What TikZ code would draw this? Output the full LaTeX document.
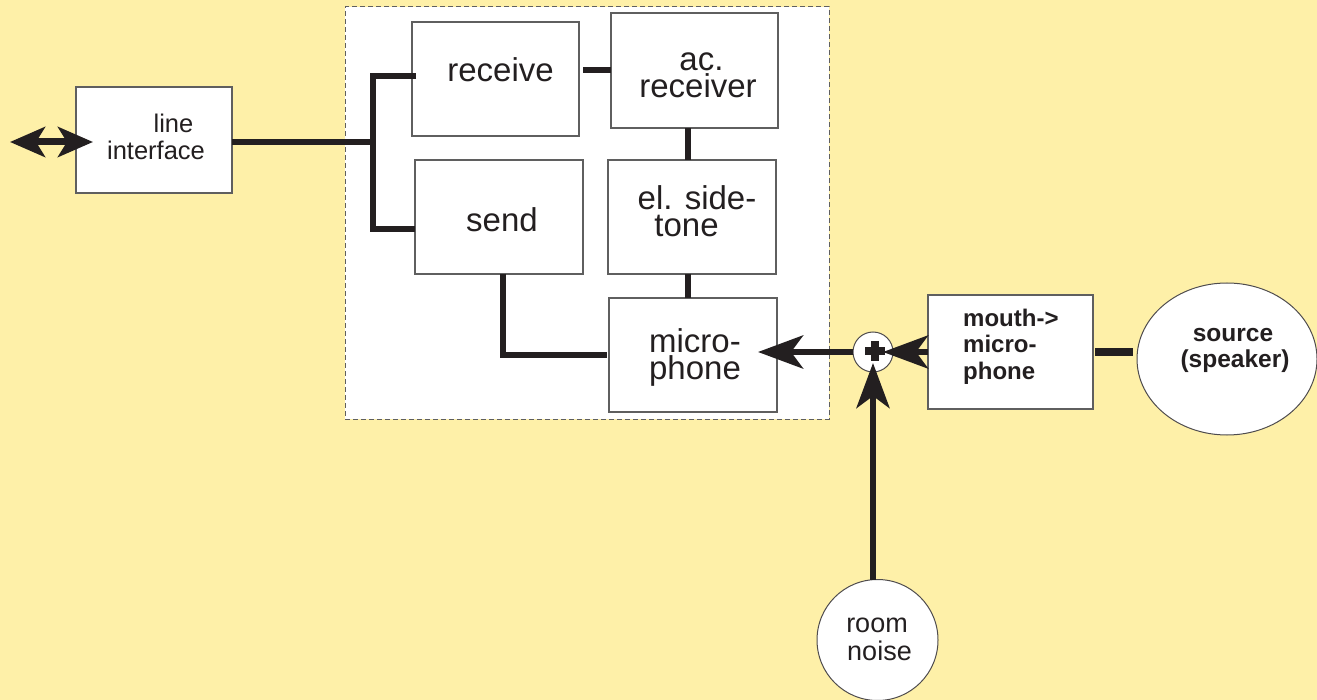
\documentclass[tikz,border=0pt]{standalone}
\usepackage{fontspec}
\setmainfont{Liberation Sans}
\usetikzlibrary{arrows.meta,shapes.geometric,calc}
\definecolor{bgc}{RGB}{254,240,168}
\definecolor{ink}{RGB}{35,31,32}
\definecolor{edge}{RGB}{95,95,95}

\begin{document}
\begin{tikzpicture}[x=1pt,y=-1pt,
  blk/.style={draw=edge, fill=white, line width=1.3pt, inner sep=0pt, outer sep=0pt},
  wire/.style={draw=ink, line width=6pt, line join=miter},
  arr/.style={draw=ink, line width=6.5pt, -{Stealth[length=45pt,width=33pt,inset=12pt]}},
  dbl/.style={draw=ink, line width=7pt, {Stealth[length=35pt,width=30pt,inset=9pt]}-{Stealth[length=35pt,width=30pt,inset=9pt]}},
  big/.style={font=\fontsize{33}{36}\selectfont, text=ink, anchor=base, inner sep=0pt},
  mid/.style={font=\fontsize{25.5}{28}\selectfont, text=ink, anchor=base, inner sep=0pt},
  noi/.style={font=\fontsize{27}{30}\selectfont, text=ink, anchor=base, inner sep=0pt},
  bld/.style={font=\fontsize{24}{27}\selectfont\bfseries, text=ink, anchor=base west, inner sep=0pt},
  bldc/.style={font=\fontsize{24.5}{27}\selectfont\bfseries, text=ink, anchor=base, inner sep=0pt}
]
% canvas
\useasboundingbox (0,0) rectangle (1317,700);
\fill[bgc] (0,0) rectangle (1317,700);

% telephone set (dashed outline)
\node[blk, draw=edge, line width=1pt, dash pattern=on 5pt off 3pt,
      minimum width=484pt, minimum height=412pt] (tel) at (587,213) {};

% blocks
\node[blk, minimum width=156pt, minimum height=106pt] (li)  at (154,140)   {};
\node[blk, minimum width=167pt, minimum height=114pt] (rcv) at (495.5,79)  {};
\node[blk, minimum width=167pt, minimum height=115pt] (acr) at (694.5,70.5){};
\node[blk, minimum width=168pt, minimum height=114pt] (snd) at (499,217)   {};
\node[blk, minimum width=168pt, minimum height=114pt] (est) at (692,217)   {};
\node[blk, minimum width=168pt, minimum height=114pt] (mic) at (693,355)   {};
\node[blk, minimum width=165pt, minimum height=114pt] (mth) at (1010.5,352){};
\node[blk, draw=ink!80, line width=1pt, ellipse, minimum width=180pt, minimum height=152pt] (src) at (1227,359) {};
\node[blk, draw=ink!80, line width=1pt, circle, minimum size=121pt] (rn) at (877.5,640) {};
\node[blk, draw=ink!80, line width=1pt, circle, minimum size=40pt] (sum) at (873,352) {};

% line side
\coordinate (ext) at (10,142);
\coordinate (bus) at (373,142);
\coordinate (bt) at (373,76);
\coordinate (bb) at (373,229);
\draw[dbl] (ext) -- ([xshift=17pt]li.west |- ext);
\draw[wire] (li.east |- bus) -- (bus);
\draw[wire] ([xshift=4pt]rcv.west |- bt) -- (bt) -- (bb) -- (snd.west |- bb);

% internal connections
\draw[wire] ([xshift=4pt]rcv.east |- acr.west) -- (acr.west);
\draw[wire] ([xshift=-6.5pt]acr.south) -- ([xshift=-6.5pt]acr.south |- est.north);
\draw[wire] ([xshift=-4pt]est.south) -- ([xshift=-4pt]est.south |- mic.north);
\draw[wire] ([xshift=4pt]snd.south) |- ([xshift=-2pt]mic.west);

% acoustic path
\draw[arr] (sum.west) -- ([xshift=-19pt]mic.east |- sum.west);
\draw[arr] (mth.west) -- ([xshift=10pt]sum.center);
\draw[arr] (rn.north -| sum) -- ([yshift=-11pt]sum.center);
\draw[draw=ink, line width=8pt, shorten <=2pt, shorten >=4pt] (mth.east) -- (mth.east -| src.west);

% summing sign
\draw[ink, line width=8pt] ([xshift=-8pt,yshift=1pt]sum.center) -- ([xshift=12pt,yshift=1pt]sum.center);
\draw[ink, line width=8pt] ([xshift=2pt,yshift=11pt]sum.center) -- ([xshift=2pt,yshift=-9pt]sum.center);

% labels
\node[mid] (li-a) at (173.5,133) {line};
\node[mid] (li-b) at (156,160) {interface};
\node[big] (rcv-a) at (500.5,82) {receive};
\node[big] (acr-a) at (701.5,71) {ac.};
\node[big] (acr-b) at (698,98) {receiver};
\node[big] (snd-a) at (502,232) {send};
\node[big] (est-a) at (697,210) {el. side-};
\node[big] (est-b) at (686.5,237) {tone};
\node[big] (mic-a) at (695,353) {micro-};
\node[big] (mic-b) at (695,380) {phone};
\node[bld] (mth-a) at (963,327) {mouth->};
\node[bld] (mth-b) at (963,353) {micro-};
\node[bld] (mth-c) at (963,380) {phone};
\node[bldc] (src-a) at (1233,342) {source};
\node[bldc] (src-b) at (1235,368) {(speaker)};
\node[noi] (rn-a) at (877,632) {room};
\node[noi] (rn-b) at (879.5,660) {noise};
\end{tikzpicture}
\end{document}
